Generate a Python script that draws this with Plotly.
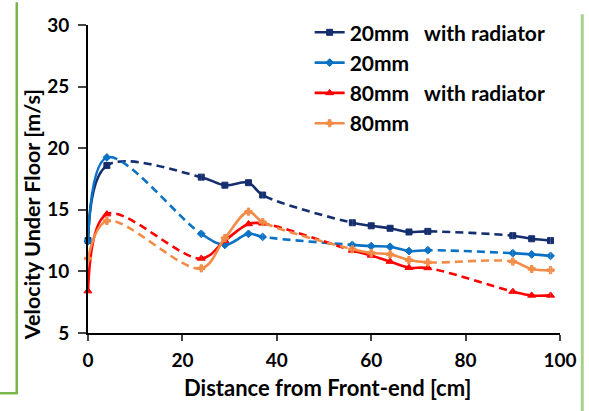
import plotly.graph_objects as go

# ---- data ----
x_pos = [0, 4, 24, 29, 34, 37, 56, 60, 64, 68, 72, 90, 94, 98]
v_20_rad = [12.5, 18.6, 17.65, 17.0, 17.2, 16.2, 13.95, 13.7, 13.5, 13.2, 13.25, 12.9, 12.65, 12.5]
v_20 = [12.45, 19.25, 13.05, 12.15, 13.05, 12.8, 12.15, 12.05, 12.0, 11.65, 11.72, 11.48, 11.38, 11.26]
v_80_rad = [8.4, 14.65, 11.05, 12.5, 13.85, 13.9, 11.7, 11.3, 10.8, 10.3, 10.28, 8.36, 8.05, 8.05]
v_80 = [11.05, 14.1, 10.25, 12.7, 14.85, 14.0, 11.8, 11.5, 11.38, 10.92, 10.73, 10.8, 10.2, 10.1]
series_names = ["20mm   with radiator", "20mm", "80mm   with radiator", "80mm"]
# measured (solid) ranges; the gaps between them are drawn dashed
solid_groups = [(0, 4), (24, 37), (56, 72), (90, 98)]
x_ticks = [0, 20, 40, 60, 80, 100]
y_ticks = [5, 10, 15, 20, 25, 30]

colors = ["#142E6E", "#0A72C4", "#FF0000", "#F28C48"]
symbols = ["square", "diamond", "triangle-up", "cross"]
msizes = [6, 6, 7, 6]
values = [v_20_rad, v_20, v_80_rad, v_80]

X0, X1 = 0, 100
FONT = "Lato"
W, H = 589, 411
ML, MR, MT, MB = 88, 24, 21, 78

fig = go.Figure()
layout_axes = {}
for gi, (a, b) in enumerate(solid_groups):
    name = "xaxis%d" % (gi + 2)
    layout_axes[name] = dict(domain=[(a - X0) / (X1 - X0), (b - X0) / (X1 - X0)],
                             range=[a, b], visible=False, anchor="y", fixedrange=True)

# dashed full-series curves (underneath), with markers
for k in range(4):
    fig.add_trace(go.Scatter(
        x=x_pos, y=values[k], mode="lines+markers", showlegend=False,
        line=dict(color=colors[k], width=2.6, dash="8px,5px", shape="spline", simplify=False),
        marker=dict(symbol=symbols[k], size=msizes[k], color=colors[k],
                    line=dict(color=colors[k], width=1)),
        cliponaxis=False, xaxis="x", yaxis="y"))

# solid parts: same curve, clipped to each measured range
for k in range(4):
    for gi in range(len(solid_groups)):
        fig.add_trace(go.Scatter(
            x=x_pos, y=values[k], mode="lines+markers", name=series_names[k],
            showlegend=(gi == 0), legendgroup=str(k),
            line=dict(color=colors[k], width=2.6, shape="spline", simplify=False),
            marker=dict(symbol=symbols[k], size=msizes[k], color=colors[k],
                        line=dict(color=colors[k], width=1)),
            xaxis="x%d" % (gi + 2), yaxis="y"))

def px2x(px):
    return (px - ML) / (W - ML - MR)

def py2y(py):
    return (H - MB - py) / (H - MT - MB)

green_dark = "#79B54A"
green_light = "#A9D18E"
shapes = [
    dict(type="line", xref="paper", yref="paper", x0=px2x(16), x1=px2x(16), y0=py2y(-2), y1=py2y(394),
         line=dict(color=green_dark, width=2.5)),
    dict(type="line", xref="paper", yref="paper", x0=px2x(-2), x1=px2x(17), y0=py2y(394), y1=py2y(394),
         line=dict(color=green_dark, width=2.5)),
    dict(type="line", xref="paper", yref="paper", x0=px2x(587.5), x1=px2x(587.5), y0=py2y(10), y1=py2y(413),
         line=dict(color=green_light, width=3)),
]

fig.update_layout(
    width=W, height=H,
    margin=dict(l=ML, r=MR, t=MT, b=MB),
    paper_bgcolor="white", plot_bgcolor="white",
    font=dict(family=FONT, size=19, color="black", weight="bold"),
    xaxis=dict(range=[X0, X1], tickvals=x_ticks, ticks="outside", ticklen=6, tickwidth=2,
               showline=True, linecolor="black", linewidth=2, showgrid=False, zeroline=False,
               tickfont=dict(family=FONT, size=19, weight="bold"), ticklabelstandoff=3,
               anchor="y", fixedrange=True),
    yaxis=dict(range=[5, 30], tickvals=y_ticks, ticks="outside", ticklen=8, tickwidth=2,
               showline=True, linecolor="black", linewidth=2, showgrid=False, zeroline=False,
               tickfont=dict(family=FONT, size=19, weight="bold"), ticklabelstandoff=5,
               anchor="x", fixedrange=True),
    legend=dict(x=px2x(312), y=py2y(8), xanchor="left", yanchor="top",
                font=dict(family=FONT, size=21, weight="bold"), bgcolor="rgba(0,0,0,0)",
                tracegroupgap=0, itemsizing="trace"),
    shapes=shapes,
    annotations=[
        dict(text="Distance from Front-end [cm]", xref="paper", yref="paper",
             x=px2x(330), y=py2y(388), xanchor="center", yanchor="middle", showarrow=False,
             font=dict(family=FONT, size=22, weight="bold")),
        dict(text="Velocity Under Floor [m/s]", xref="paper", yref="paper",
             x=px2x(31), y=py2y(213), xanchor="center", yanchor="middle", showarrow=False,
             textangle=-90, font=dict(family=FONT, size=21.5, weight="bold")),
    ],
    **layout_axes,
)

fig.write_html("out.html")
